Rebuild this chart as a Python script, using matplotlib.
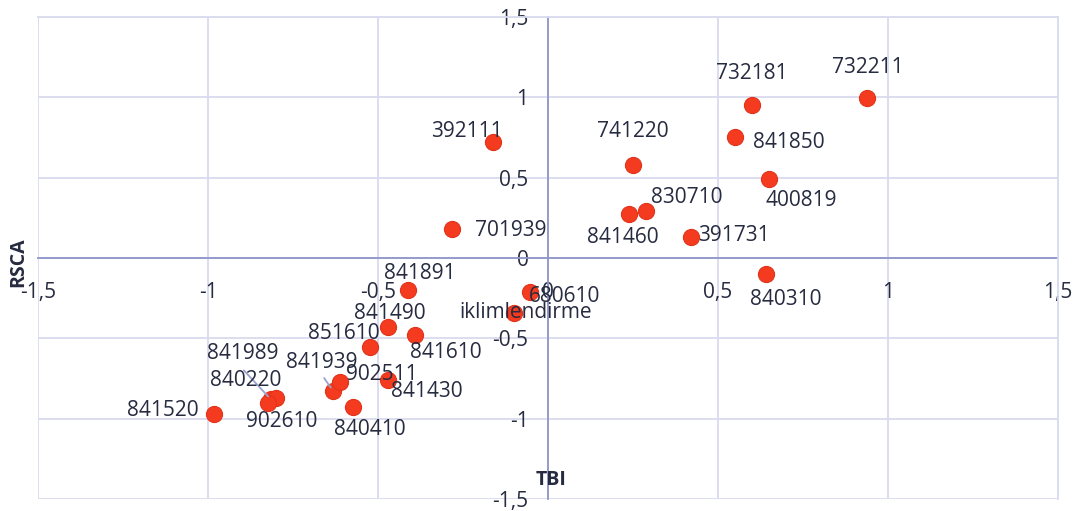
import matplotlib.pyplot as plt
from matplotlib.ticker import FixedLocator, FuncFormatter

plt.rcParams['font.family'] = ['Open Sans', 'DejaVu Sans']

# product codes (HS) with TBI / RSCA values
codes = ["732211", "732181", "841850", "741220", "400819", "830710", "841460",
         "391731", "840310", "392111", "701939", "841891", "680610",
         "iklimlendirme", "841490", "841610", "851610", "841989", "840220",
         "902610", "841939", "902511", "841430", "840410", "841520"]
tbi = [0.938, 0.600, 0.550, 0.250, 0.650, 0.288, 0.238,
       0.420, 0.641, -0.162, -0.282, -0.412, -0.053,
       -0.100, -0.470, -0.391, -0.524, -0.815, -0.800,
       -0.824, -0.632, -0.612, -0.470, -0.574, -0.982]
rsca = [0.996, 0.952, 0.753, 0.579, 0.492, 0.293, 0.274,
        0.131, -0.100, 0.722, 0.180, -0.200, -0.210,
        -0.342, -0.430, -0.480, -0.554, -0.880, -0.872,
        -0.902, -0.828, -0.770, -0.759, -0.927, -0.971]

ticks = [-1.5, -1, -0.5, 0, 0.5, 1, 1.5]

# label offsets in pixels (label centre relative to the point)
offsets = {
    "732211": (1, 30), "732181": (0, 32), "841850": (54, -5), "741220": (0, 33),
    "400819": (32, -22), "830710": (41, 13), "841460": (-6, -24),
    "391731": (43, 1), "840310": (20, -25), "392111": (-26, 10),
    "701939": (59, -1), "841891": (12, 17), "680610": (35, -5),
    "iklimlendirme": (12, 0), "841490": (2, 14), "841610": (31, -17),
    "851610": (-26, 14), "841989": (-28, 46), "840220": (-30, 18),
    "902610": (14, -19), "841939": (-11, 29), "902511": (42, 7),
    "841430": (39, -12), "840410": (17, -23), "841520": (-51, 4),
}
leaders = {"841989": (-27, 29), "841939": (-9, 13)}

grid_col = "#D9DBEF"
axis_col = "#8F97C9"
text_col = "#262B40"

fig = plt.figure(figsize=(10.82, 5.11), dpi=100)
ax = fig.add_axes([38 / 1082, 1 - 499 / 511, 1020 / 1082, 482 / 511])

ax.set_xlim(-1.5, 1.5)
ax.set_ylim(-1.5, 1.5)
ax.xaxis.set_major_locator(FixedLocator(ticks))
ax.yaxis.set_major_locator(FixedLocator(ticks))
fmt = FuncFormatter(lambda v, p: "{:g}".format(v).replace(".", ","))
ax.xaxis.set_major_formatter(fmt)
ax.yaxis.set_major_formatter(fmt)

ax.grid(True, color=grid_col, linewidth=1.3, zorder=0)
ax.set_axisbelow(True)

for side in ["top", "right"]:
    ax.spines[side].set_color(grid_col)
    ax.spines[side].set_linewidth(1.3)
for side in ["left", "bottom"]:
    ax.spines[side].set_position(("data", 0))
    ax.spines[side].set_color(axis_col)
    ax.spines[side].set_linewidth(1.3)
    ax.spines[side].set_zorder(1)

ax.tick_params(axis="both", length=0, labelsize=15, colors=text_col)
ax.tick_params(axis="x", pad=17)
ax.tick_params(axis="y", pad=14)

ax.scatter(tbi, rsca, s=135, color="#F43A1F", edgecolors="#E2341B",
           linewidths=0.8, zorder=3)

for code, x, y in zip(codes, tbi, rsca):
    dx, dy = offsets[code]
    ax.annotate(code, (x, y), xytext=(dx, dy), textcoords="offset pixels",
                ha="center", va="center", fontsize=15, color=text_col,
                zorder=5)
    if code in leaders:
        lx, ly = leaders[code]
        ax.annotate("", (x, y), xytext=(lx, ly), textcoords="offset pixels",
                    arrowprops=dict(arrowstyle="-", color="#9AA3CF", lw=1.3,
                                    shrinkA=0, shrinkB=3), zorder=4)

fig.text(551 / 1082, 1 - 480 / 511, "TBI", ha="center", va="center",
         fontsize=14, fontweight="bold", color=text_col)
fig.text(18 / 1082, 1 - 262 / 511, "RSCA", ha="center", va="center",
         rotation=90, fontsize=14, fontweight="bold", color=text_col)

fig.savefig("out.png", dpi=100)
